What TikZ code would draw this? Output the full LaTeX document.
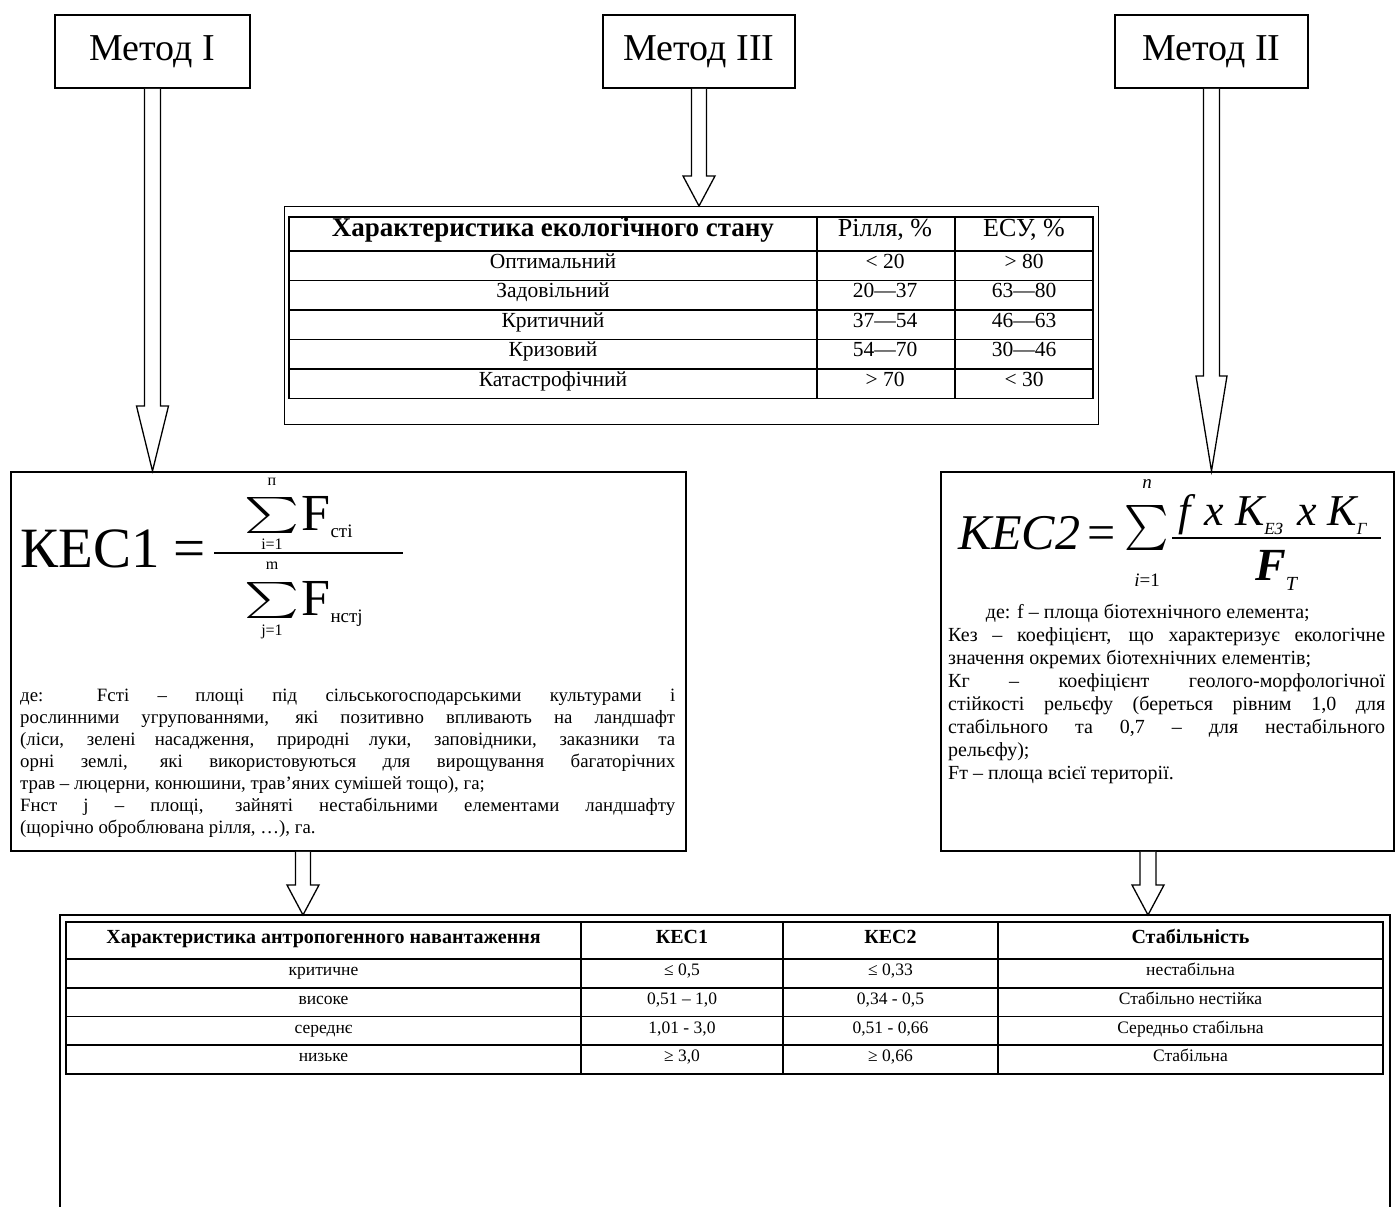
\documentclass[tikz,border=0pt]{standalone}
\usepackage{fontspec}
\usepackage{amsmath}
\usepackage{graphicx}
\setmainfont{Liberation Serif}
\usetikzlibrary{calc}

\tikzset{
  methodbox/.style={draw, line width=1.6pt, minimum width=195pt, minimum height=73pt,
    font=\fontsize{38}{44}\selectfont, inner sep=0pt},
  bigbox/.style={draw, line width=1.8pt, anchor=north west, inner sep=0pt},
  tabline/.style={line width=1.8pt},
  tabthin/.style={line width=1.2pt},
  blockarr/.style={draw, line width=1.3pt, fill=white, line join=miter},
  tophead/.style={font=\fontsize{26}{30}\selectfont, inner sep=0pt, text height=0.68em, text depth=0.22em},
  toptxt/.style={font=\fontsize{21.5}{26}\selectfont, inner sep=0pt, text height=0.68em, text depth=0.22em},
  bothead/.style={font=\fontsize{20}{24}\selectfont\bfseries, inner sep=0pt, text height=0.68em, text depth=0.22em},
  bottxt/.style={font=\fontsize{17.5}{20}\selectfont, inner sep=0pt, text height=0.68em, text depth=0.22em},
  bodytxt/.style={anchor=north west, inner sep=0pt, align=justify},
  fbig/.style={inner sep=0pt, anchor=base west, font=\fontsize{57}{60}\selectfont},
  flim/.style={inner sep=0pt, font=\fontsize{16}{18}\selectfont},
  fsub/.style={inner sep=0pt, anchor=base west, font=\fontsize{19}{22}\selectfont},
  fbar/.style={line width=1.7pt}
}

% block arrow: #1 start (top), #2 tip, #3 shaft half width, #4 head half width, #5 head length
\newcommand\blockarrow[5]{%
  \draw[blockarr] let \p1=(#1), \p2=(#2) in
    (\x2-#3pt,\y1) -- (\x2-#3pt,\y2+#5pt) -- (\x2-#4pt,\y2+#5pt) -- (\x2,\y2)
    -- (\x2+#4pt,\y2+#5pt) -- (\x2+#3pt,\y2+#5pt) -- (\x2+#3pt,\y1);}

\begin{document}
\begin{tikzpicture}[x=1pt,y=-1pt]
\useasboundingbox (0,0) rectangle (1395,1207);
\fill[white] (0,0) rectangle (1395,1207);

% ---------- method boxes ----------
\node[methodbox] (m1) at (152.5,51.5) {Метод I};
\node[methodbox, minimum width=192pt] (m3) at (699,51.5) {Метод III};
\node[methodbox, minimum width=193pt] (m2) at (1211.5,51.5) {Метод II};

% ---------- top table (Method III) ----------
\node[draw, line width=1.3pt, anchor=north west, minimum width=814pt, minimum height=218pt, inner sep=0pt] (t3) at (284,206) {};
\coordinate (t3tip) at (m3.south |- t3.north);
\blockarrow{m3.south}{t3tip}{7.5}{16}{30}
\fill (622,218) circle (1.1pt);

\draw[tabline] (289,217) rectangle (1093,398.5);
\foreach \yy in {251,280.5,310,339.5,369} \draw[tabline] (289,\yy) -- (1093,\yy);
\draw[tabline] (817,217) -- (817,398.5);
\draw[tabline] (955,217) -- (955,398.5);

\node[tophead, font=\fontsize{27}{30}\selectfont\bfseries] (h1) at (553,234) {Характеристика екологічного стану};
\node[tophead] (h2) at (885,234) {Рілля, \%};
\node[tophead] (h3) at (1024,234) {ЕСУ, \%};
\foreach \name/\a/\b [count=\i] in {Оптимальний/{< 20}/{> 80},Задовільний/20—37/63—80,Критичний/37—54/46—63,Кризовий/54—70/30—46,Катастрофічний/{> 70}/{< 30}}{
  \pgfmathsetmacro\yc{251+29.5*(\i-0.5)}
  \node[toptxt] (r\i a) at (553,\yc) {\name};
  \node[toptxt] (r\i b) at (885,\yc) {\a};
  \node[toptxt] (r\i c) at (1024,\yc) {\b};
}

% ---------- left box (Method I) ----------
\node[bigbox, minimum width=675pt, minimum height=379pt] (b1) at (10,471) {};
\coordinate (b1tip) at (m1.south |- b1.north);
\blockarrow{m1.south}{b1tip}{8}{16}{65}

% formula KEC1
\node[fbig] (k1) at (20,567) {КЕС1 =};
\draw[fbar] (214,553) -- (403,553);
\node[inner sep=0pt] (s1) at (272,515) {\scalebox{5.2}[3.6]{$\textstyle\sum$}};
\node[flim] (s1t) at (272,482) {п};
\node[flim] (s1b) at (272,544) {i=1};
\node[fbig, font=\fontsize{52}{56}\selectfont] (fn) at (301,530) {F};
\node[fsub] (fns) at ([yshift=-7pt]fn.base east) {сті};
\node[inner sep=0pt] (s2) at (272,600) {\scalebox{5.2}[3.6]{$\textstyle\sum$}};
\node[flim] (s2t) at (272,566) {m};
\node[flim] (s2b) at (272,632) {j=1};
\node[fbig, font=\fontsize{52}{56}\selectfont] (fd) at (301,615) {F};
\node[fsub] (fds) at ([yshift=-7pt]fd.base east) {нстj};

\node[bodytxt, text width=655pt, font=\fontsize{18.8}{22}\selectfont] (t1) at (20,689) {%
де: Fсті – площі під сільськогосподарськими культурами і\linebreak
рослинними угрупованнями, які позитивно впливають на ландшафт\linebreak
(ліси, зелені насадження, природні луки, заповідники, заказники та\linebreak
орні землі, які використовуються для вирощування багаторічних\linebreak
трав – люцерни, конюшини, трав'яних сумішей тощо), га;\\
Fнст j – площі, зайняті нестабільними елементами ландшафту\linebreak
(щорічно оброблювана рілля, …), га.};

% ---------- right box (Method II) ----------
\node[bigbox, minimum width=453pt, minimum height=379pt] (b2) at (940,471) {};
\coordinate (b2tip) at (m2.south |- b2.north);
\blockarrow{m2.south}{b2tip}{8}{15.5}{95}

% formula KEC2
\node[fbig, font=\fontsize{50}{55}\selectfont\itshape] (k2) at (958,549) {КЕС2};
\node[fbig, font=\fontsize{50}{55}\selectfont] (k2eq) at (1087,549) {=};
\node[inner sep=0pt] (s3) at (1147,528) {\scalebox{4.2}[4.5]{$\textstyle\sum$}};
\node[flim, font=\fontsize{19}{22}\selectfont\itshape] (s3t) at (1147,484) {n};
\node[flim, font=\fontsize{19}{22}\selectfont] (s3b) at (1147,580) {\textit{i}=1};
\draw[fbar] (1172,538) -- (1381,538);
\node[fbig, font=\fontsize{44}{48}\selectfont\itshape] (num2) at (1178,525) {f\hspace{0.32em}x K\raisebox{-0.22em}{\fontsize{17}{20}\selectfont ЕЗ}\hspace{0.32em}x K\raisebox{-0.22em}{\fontsize{17}{20}\selectfont Г}};
\node[inner sep=0pt, anchor=base, font=\fontsize{46}{50}\selectfont\bfseries\itshape] (den2) at (1276,580) {F\raisebox{-0.22em}{\fontsize{20}{22}\selectfont\mdseries\itshape T}};

\node[bodytxt, text width=437pt, font=\fontsize{20}{23}\selectfont] (t2) at (948,604) {%
\hfil де: f – площа біотехнічного елемента;\hfil\null\\
Кез – коефіцієнт, що характеризує екологічне\linebreak
значення окремих біотехнічних елементів;\\
Кг – коефіцієнт геолого-морфологічної\linebreak
стійкості рельєфу (береться рівним 1,0 для\linebreak
стабільного та 0,7 – для нестабільного\linebreak
рельєфу);\\
Fт – площа всієї території.};

% ---------- bottom table ----------
\draw[line width=1.6pt] (60,1215) -- (60,915) -- (1390,915) -- (1390,1215);
\coordinate (lt) at (303,915);
\coordinate (rt) at (1148,915);
\blockarrow{b1.south -| lt}{lt}{7.5}{16}{30}
\blockarrow{b2.south -| rt}{rt}{8}{16}{30}

\draw[tabline] (66,922) rectangle (1383,1074);
\foreach \yy in {959,987.75,1016.5,1045.25} \draw[tabline] (66,\yy) -- (1383,\yy);
\foreach \xx in {581,783,998} \draw[tabthin] (\xx,922) -- (\xx,1074);

\node[bothead] (bh1) at (323.5,941) {Характеристика антропогенного навантаження};
\node[bothead] (bh2) at (682,941) {КЕС1};
\node[bothead] (bh3) at (890.5,941) {КЕС2};
\node[bothead] (bh4) at (1190.5,941) {Стабільність};
\foreach \a/\b/\c/\d [count=\i] in {критичне/{≤ 0,5}/{≤ 0,33}/нестабільна,високе/{0,51 – 1,0}/{0,34 - 0,5}/Стабільно нестійка,середнє/{1,01 - 3,0}/{0,51 - 0,66}/Середньо стабільна,низьке/{≥ 3,0}/{≥ 0,66}/Стабільна}{
  \pgfmathsetmacro\yc{959+28.75*(\i-0.5)}
  \node[bottxt] (br\i a) at (323.5,\yc) {\a};
  \node[bottxt] (br\i b) at (682,\yc) {\b};
  \node[bottxt] (br\i c) at (890.5,\yc) {\c};
  \node[bottxt] (br\i d) at (1190.5,\yc) {\d};
}
\end{tikzpicture}
\end{document}
